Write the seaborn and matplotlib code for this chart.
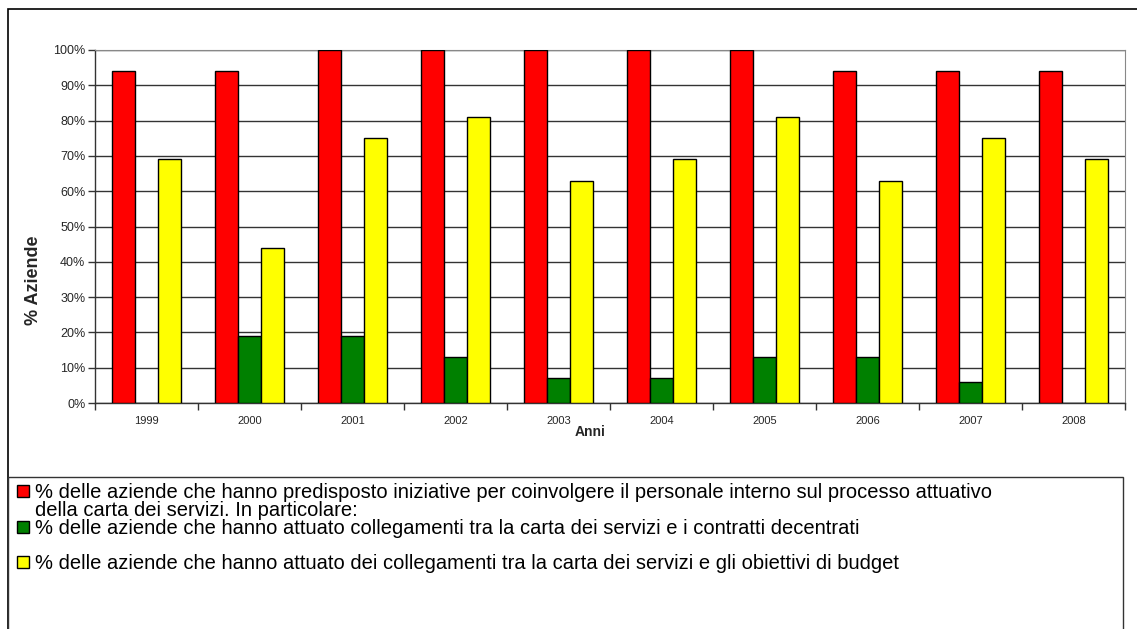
import numpy as np
import pandas as pd
import matplotlib
matplotlib.use("Agg")
import matplotlib.pyplot as plt
from matplotlib.patches import Rectangle
from matplotlib.ticker import PercentFormatter, FixedLocator
import seaborn as sns

years = ["1999", "2000", "2001", "2002", "2003", "2004", "2005", "2006", "2007", "2008"]
personale = [94, 94, 100, 100, 100, 100, 100, 94, 94, 94]
contratti = [0, 19, 19, 13, 7, 7, 13, 13, 6, 0]
budget = [69, 44, 75, 81, 63, 69, 81, 63, 75, 69]

series = ["personale", "contratti", "budget"]
colors = ["#FF0000", "#008000", "#FFFF00"]
labels = [
    "% delle aziende che hanno predisposto iniziative per coinvolgere il personale interno sul processo attuativo\n"
    "della carta dei servizi. In particolare:",
    "% delle aziende che hanno attuato collegamenti tra la carta dei servizi e i contratti decentrati",
    "% delle aziende che hanno attuato dei collegamenti tra la carta dei servizi e gli obiettivi di budget",
]

df = pd.DataFrame({"anno": years, "personale": personale,
                   "contratti": contratti, "budget": budget})
long = df.melt(id_vars="anno", value_vars=series, var_name="serie", value_name="pct")

sns.set_style("white")
plt.rcParams["font.family"] = ["Liberation Sans", "DejaVu Sans"]

fig = plt.figure(figsize=(11.37, 6.29), dpi=100)
W, H = 1137, 629
ax = fig.add_axes([95 / W, 1 - 403 / H, 1030 / W, 353 / H])

sns.barplot(data=long, x="anno", y="pct", hue="serie", hue_order=series,
            palette=colors, width=0.67, gap=0, edgecolor="black",
            linewidth=1.0, saturation=1, ax=ax, legend=False, zorder=3)

ax.set_ylim(0, 100)
ax.set_xlim(-0.5, len(years) - 0.5)
ax.yaxis.set_major_locator(FixedLocator(np.arange(0, 101, 10)))
ax.yaxis.set_major_formatter(PercentFormatter(decimals=0))
ax.yaxis.grid(True, color="#333333", linewidth=1.0, zorder=0)
ax.set_axisbelow(True)
for s in ["top", "right"]:
    ax.spines[s].set_color("#888888")
for s in ["left", "bottom"]:
    ax.spines[s].set_color("#333333")
ax.spines["left"].set_linewidth(1.0)
ax.spines["bottom"].set_linewidth(1.0)

ax.tick_params(axis="y", which="major", left=True, length=5, width=1, color="#333333",
               labelsize=9, pad=2)
ax.tick_params(axis="x", which="major", bottom=False, length=0, labelsize=8, pad=9)
ax.xaxis.set_minor_locator(FixedLocator(np.arange(-0.5, len(years), 1)))
ax.tick_params(axis="x", which="minor", bottom=True, length=5, width=1, color="#333333",
               direction="out")

ax.set_ylabel("% Aziende", fontsize=13, fontweight="bold")
ax.yaxis.set_label_coords((42 - 95) / 1030, (403 - 280) / 353)
ax.set_xlabel("Anni", fontsize=10, fontweight="bold")
ax.xaxis.set_label_coords((590 - 95) / 1030, -0.062)

# outer frame and legend box
fig.patches.append(Rectangle((8 / W, -0.1), 1.2, 1 - 9 / H + 0.1, transform=fig.transFigure,
                             fill=False, edgecolor="black", linewidth=1.2))
fig.patches.append(Rectangle((8 / W, -0.1), (1123 - 8) / W, 1 - 477 / H + 0.1,
                             transform=fig.transFigure, fill=False,
                             edgecolor="#333333", linewidth=1.0))

# legend entries (centre of first text line of each entry, pixels from top)
entry_y = [491, 527, 562]
for color, label, y in zip(colors, labels, entry_y):
    fig.patches.append(Rectangle((17 / W, 1 - (y + 6) / H), 12 / W, 12 / H,
                                 transform=fig.transFigure, facecolor=color,
                                 edgecolor="black", linewidth=1.0))
    fig.text(35 / W, 1 - (y - 8) / H, label, fontsize=14.5, va="top", ha="left",
             linespacing=0.92, color="black")

fig.savefig("out.png", dpi=100)
